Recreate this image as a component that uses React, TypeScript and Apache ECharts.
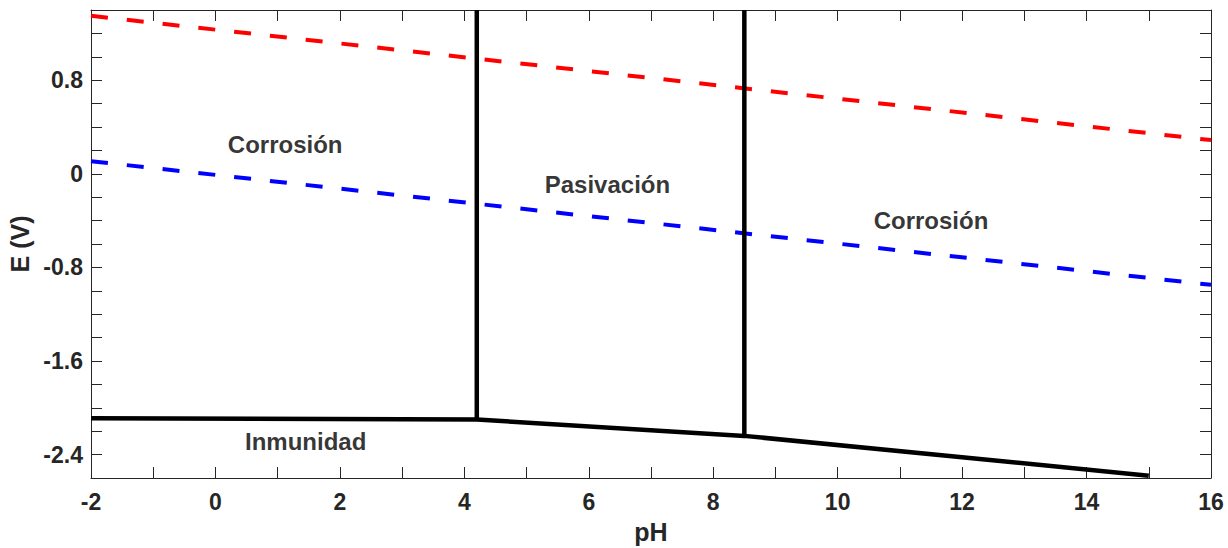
import React, { useEffect, useRef } from "react";
import * as echarts from "echarts";

// O2/H2O line (red dashed)
const oxygenLine: [number, number][] = [[-2, 1.35], [16, 0.288]];
// H+/H2 line (blue dashed)
const hydrogenLine: [number, number][] = [[-2, 0.108], [16, -0.949]];
// Immunity boundary (black)
const immunityBoundary: [number, number][] = [[-2, -2.09], [4.2, -2.10], [8.5, -2.24], [15, -2.58]];
// Vertical boundaries
const boundaryA: [number, number][] = [[4.2, -2.10], [4.2, 1.4]];
const boundaryB: [number, number][] = [[8.5, -2.24], [8.5, 1.4]];
// Region labels
const regionNames = ["Corrosión", "Pasivación", "Corrosión", "Inmunidad"];
const regionX = [1.12, 6.3, 11.5, 1.45];
const regionY = [0.25, -0.095, -0.4, -2.285];

const FONT = "'Liberation Sans', Arial, Helvetica, sans-serif";
const AXIS_COLOR = "#262626";

function fmtY(v: number): string {
  const k = Math.round(v / 0.8);
  if (Math.abs(k * 0.8 - v) > 1e-6) return "";
  const s = (k * 0.8).toFixed(1);
  if (s === "0.0" || s === "-0.0") return "0";
  return s;
}

function fmtX(v: number): string {
  const r = Math.round(v);
  if (Math.abs(r - v) > 1e-6) return "";
  return r % 2 === 0 ? String(r) : "";
}

export default function App() {
  const ref = useRef<HTMLDivElement>(null);
  useEffect(() => {
    if (!ref.current) return;
    const chart = echarts.init(ref.current, undefined, { renderer: "svg" });
    const axisLine = { show: true, onZero: false, lineStyle: { color: AXIS_COLOR, width: 1 } };
    const tick = { show: true, inside: true, length: 11, lineStyle: { color: AXIS_COLOR, width: 1 } };
    const labelStyle = { fontFamily: FONT, fontWeight: "bold" as const, fontSize: 23, color: AXIS_COLOR };
    const line = (data: [number, number][], color: string, type: any, width: number) => ({
      type: "line",
      data,
      symbol: "none",
      xAxisIndex: 0,
      yAxisIndex: 0,
      lineStyle: { color, width, type, cap: "butt" },
      silent: true,
    });
    chart.setOption({
      animation: false,
      backgroundColor: "#ffffff",
      grid: { left: 91, right: 17, top: 10, bottom: 70, containLabel: false, outerBoundsMode: "none" },
      xAxis: [
        {
          type: "value",
          min: -2,
          max: 16,
          interval: 1,
          position: "bottom",
          axisLine,
          axisTick: tick,
          splitLine: { show: false },
          axisLabel: { ...labelStyle, margin: 12, formatter: fmtX, showMinLabel: true, showMaxLabel: true },
          name: "pH",
          nameLocation: "middle",
          nameGap: 41,
          nameTextStyle: { fontFamily: FONT, fontWeight: "bold", fontSize: 25, color: AXIS_COLOR },
        },
        {
          type: "value",
          min: -2,
          max: 16,
          interval: 1,
          position: "top",
          axisLine,
          axisTick: tick,
          splitLine: { show: false },
          axisLabel: { show: false },
        },
      ],
      yAxis: [
        {
          type: "value",
          min: -2.6,
          max: 1.4,
          interval: 0.2,
          position: "left",
          axisLine,
          axisTick: tick,
          splitLine: { show: false },
          axisLabel: { ...labelStyle, margin: 8, formatter: fmtY, showMinLabel: true, showMaxLabel: true },
          name: "E (V)",
          nameLocation: "middle",
          nameGap: 54,
          nameRotate: 90,
          nameTextStyle: { fontFamily: FONT, fontWeight: "bold", fontSize: 25, color: AXIS_COLOR },
        },
        {
          type: "value",
          min: -2.6,
          max: 1.4,
          interval: 0.2,
          position: "right",
          axisLine,
          axisTick: tick,
          splitLine: { show: false },
          axisLabel: { show: false },
        },
      ],
      series: [
        line(oxygenLine, "#ff0000", [17, 19], 4),
        line(hydrogenLine, "#0000ff", [17, 19], 4),
        line(immunityBoundary, "#000000", "solid", 4.5),
        line(boundaryA, "#000000", "solid", 4.5),
        line(boundaryB, "#000000", "solid", 4.5),
        {
          type: "scatter",
          symbolSize: 0,
          silent: true,
          data: regionNames.map((n, i) => ({ name: n, value: [regionX[i], regionY[i]] })),
          label: {
            show: true,
            position: "inside",
            formatter: (p: any) => p.name,
            fontFamily: FONT,
            fontWeight: "bold",
            fontSize: 24,
            color: "#000000",
          },
        },
      ],
    });
    return () => chart.dispose();
  }, []);
  return (
    <div
      ref={ref}
      style={{ position: "fixed", left: 0, top: 0, width: 1228, height: 548, background: "#fff" }}
    />
  );
}
